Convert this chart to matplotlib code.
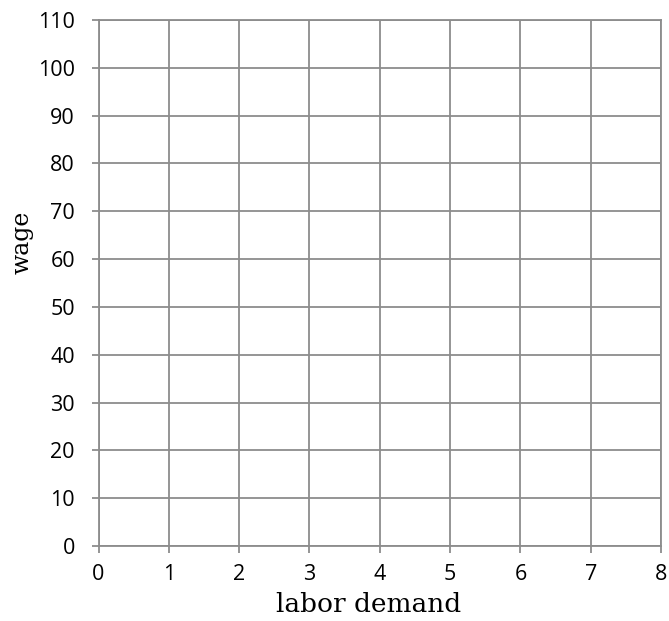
import matplotlib
matplotlib.use("Agg")
import matplotlib.pyplot as plt

x_ticks = [0, 1, 2, 3, 4, 5, 6, 7, 8]
y_ticks = [0, 10, 20, 30, 40, 50, 60, 70, 80, 90, 100, 110]
x_label = "labor demand"
y_label = "wage"

W, H = 669, 621
fig = plt.figure(figsize=(W / 100, H / 100), dpi=100)
L, R, T, B = 98.5, 661, 20, 546
ax = fig.add_axes([L / W, (H - B) / H, (R - L) / W, (B - T) / H])
gray = "#8c8c8c"
ax.set_xlim(x_ticks[0], x_ticks[-1])
ax.set_ylim(y_ticks[0], y_ticks[-1])
ax.set_xticks(x_ticks)
ax.set_yticks(y_ticks)
ax.grid(True, color=gray, linewidth=1.3)
ax.set_axisbelow(True)
for s in ax.spines.values():
    s.set_color(gray)
    s.set_linewidth(1.3)
ax.tick_params(axis="both", color=gray, width=1.3, length=5, labelsize=15.5)
ax.tick_params(axis="y", pad=12)
ax.tick_params(axis="x", pad=8)
for lab in ax.get_xticklabels() + ax.get_yticklabels():
    lab.set_fontfamily("Open Sans")

fig.text(369 / W, 1 - 604 / H, x_label, ha="center", va="center",
         fontsize=19, family="DejaVu Serif")
fig.text(22 / W, 1 - 242 / H, y_label, ha="center", va="center",
         rotation=90, fontsize=17, family="DejaVu Serif")

fig.savefig("out.png", dpi=100)
